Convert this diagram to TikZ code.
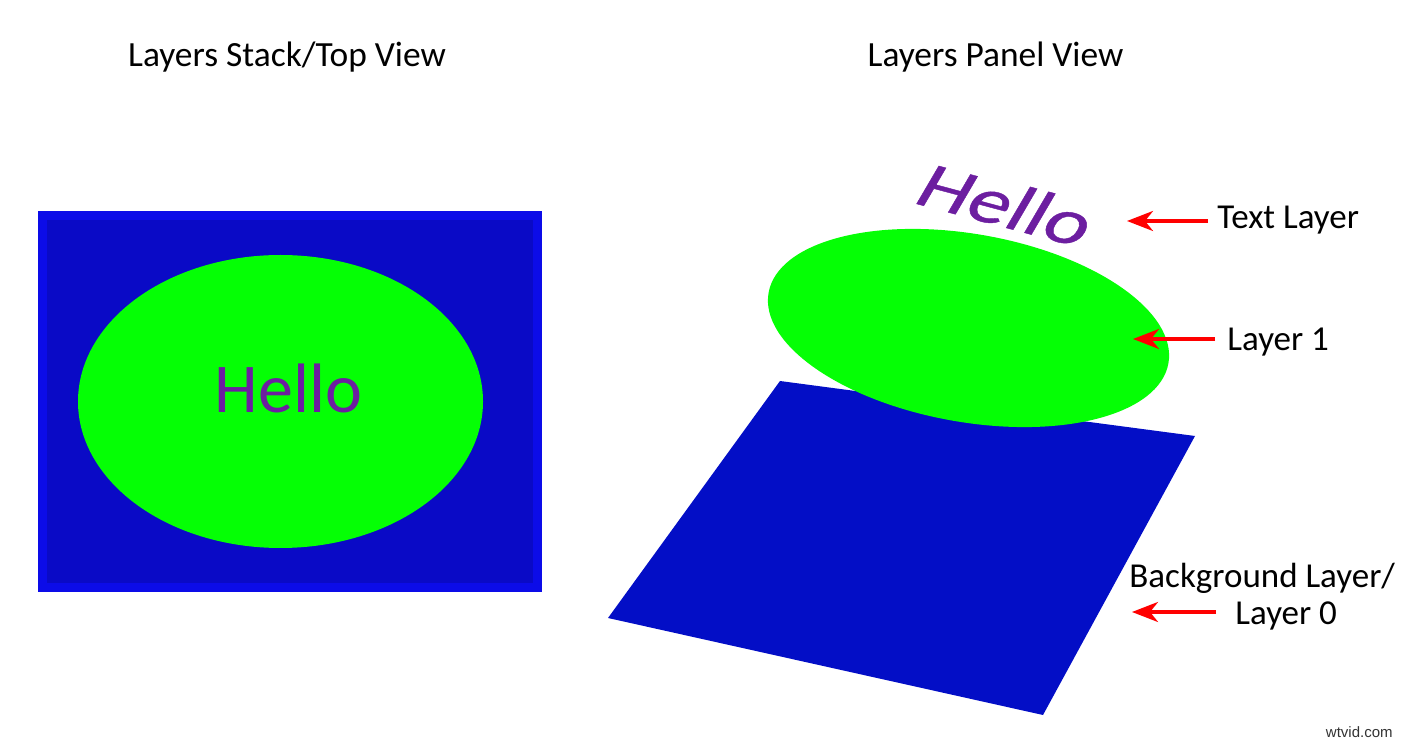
\documentclass[tikz,border=0pt]{standalone}
\usepackage{fontspec}
\setmainfont{Carlito}
\newfontfamily\slantfont[FakeSlant=0.22, FakeBold=0.6]{Carlito}
\newfontfamily\markfont{Liberation Sans}
\usetikzlibrary{arrows.meta}
\definecolor{stackblue}{RGB}{10,10,198}
\definecolor{stackedge}{RGB}{12,12,232}
\definecolor{panelblue}{RGB}{3,14,198}
\definecolor{layergreen}{RGB}{5,255,5}
\definecolor{hellopurple}{RGB}{108,30,160}
\tikzset{viewtitle/.style={font=\fontsize{17.7}{21}\selectfont, anchor=base, inner sep=0pt}}
\tikzset{layerlabel/.style={font=\fontsize{17.5}{18.5}\selectfont, inner sep=0pt}}
\tikzset{layerarrow/.style={draw=red, line width=1.75pt, -{Stealth[length=13pt,width=10pt,inset=4pt]}}}

\begin{document}
\begin{tikzpicture}[x=0.5pt, y=-0.5pt]
\useasboundingbox (0,0) rectangle (1413,742);
% top view
\node[viewtitle] (stacktitle) at (287,67) {Layers Stack/Top View};
\draw[stackedge, line width=4.5pt, fill=stackblue] (42.5,215.5) rectangle (537.5,587.5);
\fill[layergreen] (280.5,401.5) ellipse [x radius=202.5, y radius=146.5];
\node[text=hellopurple, font=\fontsize{35}{40}\selectfont, anchor=base, inner sep=0pt] (tophello) at (288.5,413) {Hello};
% panel view
\node[viewtitle] (paneltitle) at (995.5,67) {Layers Panel View};
\fill[panelblue] (780,381) -- (1195,436) -- (1043,715) -- (608,618) -- cycle;
\fill[layergreen, rotate around={-10:(968.5,328)}] (968.5,328) ellipse [x radius=203, y radius=94];
\node[text=hellopurple, rotate=-15, font=\slantfont\fontsize{33}{36}\selectfont] (panelhello) at (1001,203) {\scalebox{1.25}[1]{Hello}};
% labels and arrows
\coordinate (texttail) at (1208,221);
\coordinate (texttip) at (1127,221);
\node[layerlabel, anchor=base west] (textlayer) at (1217,229) {Text Layer};
\draw[layerarrow] (texttail) -- (texttip);
\coordinate (onetail) at (1215,339);
\coordinate (onetip) at (1133,339);
\node[layerlabel, anchor=base west] (layerone) at (1227,351) {Layer 1};
\draw[layerarrow] (onetail) -- (onetip);
\coordinate (bgtail) at (1216,612);
\coordinate (bgtip) at (1132,612);
\node[layerlabel, anchor=north west, align=center] (bglayer) at (1129,563) {Background Layer/\\\hspace*{24pt}Layer 0};
\draw[layerarrow] (bgtail) -- (bgtip);
\node[anchor=base east, font=\markfont\fontsize{7.5}{9}\selectfont, text=black!80, inner sep=0pt] (mark) at (1393,737) {wtvid.com};
\end{tikzpicture}
\end{document}
